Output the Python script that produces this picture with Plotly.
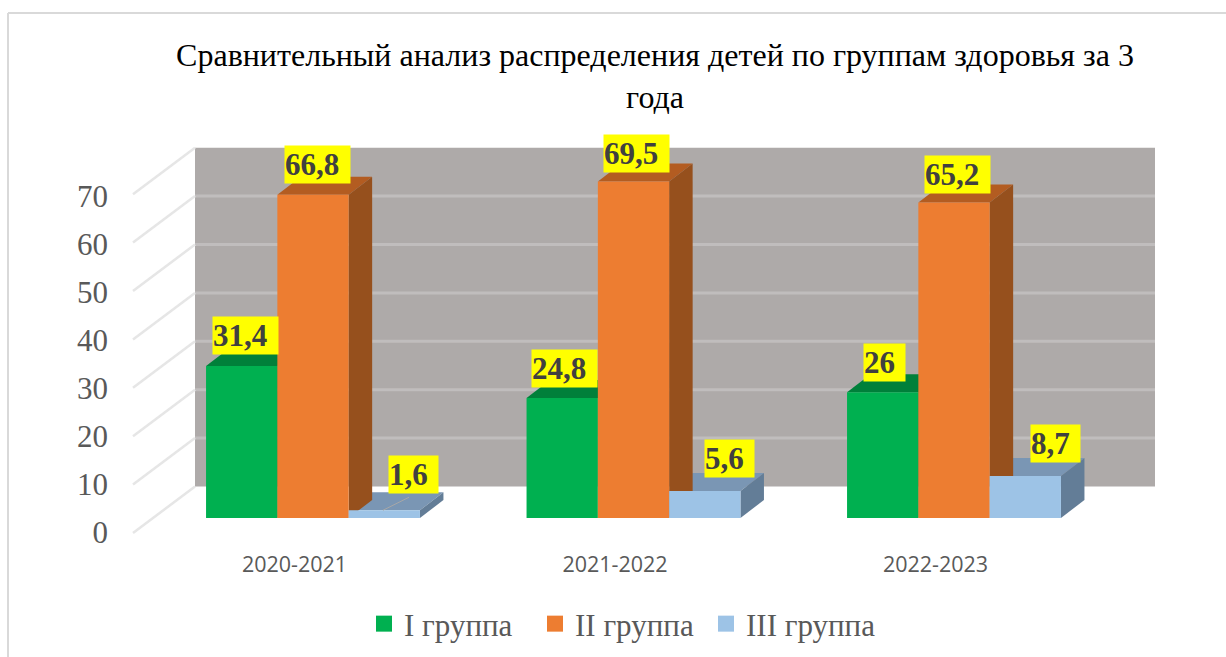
import plotly.graph_objects as go

# ---------- data ----------
categories = ["2020-2021", "2021-2022", "2022-2023"]
group_names = ["I группа", "II группа", "III группа"]
group_1 = [31.4, 24.8, 26]
group_2 = [66.8, 69.5, 65.2]
group_3 = [1.6, 5.6, 8.7]
y_ticks = [0, 10, 20, 30, 40, 50, 60, 70]
title_text = "Сравнительный анализ распределения детей по группам здоровья за 3<br>года"

# ---------- styles ----------
front = ["#00B050", "#ED7D31", "#9DC3E6"]
top_c = ["#00803A", "#B35C21", "#7A96B4"]
side_c = ["#00703A", "#96501D", "#637D97"]
WALL = "#AEAAA9"
WALL_GRID = "#C0BDBD"
SIDE_GRID = "#E6E6E6"
TXT = "#595959"
SERIF = "Liberation Serif"

# pixel calibration of the scene
W, H = 1226, 657
PL, PR, PT, PB = 112, 1200, 140, 545
X0, XS = 313.0, 320.5      # px of first group centre, px per group
Y0, YS = 518.0, 4.84       # px of value 0 on the bars' front plane, px per unit


def xd(px):
    return (px - X0) / XS


def yd(px):
    return (Y0 - px) / YS


def xp(px):
    return (px - PL) / (PR - PL)


def yp(py):
    return (PB - py) / (PB - PT)


BAR_W = 71.3 / XS
DX, DY = 23.5 / XS, 18.0 / YS   # bar depth in data units
series = [group_1, group_2, group_3]

fig = go.Figure()
for name, vals, col in zip(group_names, series, front):
    fig.add_bar(
        x=list(range(len(categories))), y=vals, name=name, legendgroup=name, showlegend=False,
        marker=dict(color=col, line=dict(width=0)),
        hoverinfo="x+y",
    )
# legend keys
for name, col in zip(group_names, front):
    fig.add_scatter(x=[None], y=[None], name=name, legendgroup=name, mode="markers",
                    marker=dict(symbol="square", size=16, color=col))

shapes = []
# back wall and its gridlines
WB = yd(486.5)
shapes.append(dict(type="rect", xref="x", yref="y", x0=xd(195), x1=xd(1155),
                   y0=WB, y1=WB + y_ticks[-1], fillcolor=WALL, line_width=0, layer="below"))
for v in y_ticks:
    if 0 < v < y_ticks[-1]:
        shapes.append(dict(type="line", xref="x", yref="y", x0=xd(195), x1=xd(1155),
                           y0=WB + v, y1=WB + v, line=dict(color=WALL_GRID, width=3), layer="below"))
    # side wall lines
    shapes.append(dict(type="line", xref="x", yref="y", x0=xd(133), x1=xd(195),
                       y0=yd(533) + v, y1=WB + v, line=dict(color=SIDE_GRID, width=2.5), layer="below"))

# 3D top + side faces, back-most first so nearer faces cover them
for s in (2, 1, 0):
    for i, v in enumerate(series[s]):
        x_l = i - 1.5 * BAR_W + s * BAR_W
        x_r = x_l + BAR_W
        shapes.append(dict(
            type="path", xref="x", yref="y", layer="below", fillcolor=top_c[s], line_width=0,
            path=f"M{x_l},{v} L{x_r},{v} L{x_r + DX},{v + DY} L{x_l + DX},{v + DY} Z"))
        shapes.append(dict(
            type="path", xref="x", yref="y", layer="below", fillcolor=side_c[s], line_width=0,
            path=f"M{x_r},0 L{x_r},{v} L{x_r + DX},{v + DY} L{x_r + DX},{DY} Z"))

# frame: top and left edges only
FRAME = dict(color="#D9D9D9", width=2)
shapes.append(dict(type="line", xref="paper", yref="paper", x0=xp(8), x1=xp(W + 5),
                   y0=yp(13), y1=yp(13), line=FRAME, layer="below"))
shapes.append(dict(type="line", xref="paper", yref="paper", x0=xp(8), x1=xp(8),
                   y0=yp(13), y1=yp(H + 5), line=FRAME, layer="below"))
# leader line of the 1,6 label
shapes.append(dict(type="line", xref="x", yref="y", layer="above",
                   x0=xd(383), x1=xd(409), y0=group_3[0], y1=group_3[0] + 13.0 / YS,
                   line=dict(color="#A6A6A6", width=1)))

# data labels: (dx, dy) px from the centre of the bar's top edge
offsets = [
    [(4, 30.5), (2, 29), (2, 30)],
    [(4, 30), (3, 28.5), (3, 28)],
    [(29.5, 36), (25, 32), (30, 32)],
]
annotations = []
for s in range(3):
    for i, v in enumerate(series[s]):
        label = f"{v:g}".replace(".", ",")
        dx, dy = offsets[s][i]
        annotations.append(dict(
            x=i - BAR_W + s * BAR_W, y=v, xref="x", yref="y", text=f"<b>{label}</b>",
            showarrow=False, xshift=dx, yshift=dy, xanchor="center", yanchor="middle",
            bgcolor="#FFFF00", borderpad=0, align="left",
            width={4: 65, 3: 49, 2: 41}[len(label)], height=37, valign="middle",
            font=dict(family=SERIF, size=31, color="#404040"),
        ))

fig.update_layout(
    width=W, height=H,
    margin=dict(l=PL, r=W - PR, t=PT, b=H - PB, pad=0, autoexpand=False),
    paper_bgcolor="white", plot_bgcolor="rgba(0,0,0,0)",
    barmode="group", bargap=1 - 3 * 71.3 / XS, bargroupgap=0,
    shapes=shapes, annotations=annotations,
    title=dict(text=title_text, x=xp(655), xanchor="center", y=1 - 66 / H, yanchor="top",
               xref="paper", yref="container",
               font=dict(family=SERIF, size=32, color="#000000")),
    xaxis=dict(range=[xd(PL), xd(PR)], showgrid=False, zeroline=False, showline=False,
               tickmode="array", tickvals=[i - 18.5 / XS for i in range(len(categories))],
               ticktext=categories, ticks="", ticklabelstandoff=4,
               tickfont=dict(family="Open Sans", size=21.5, color=TXT)),
    yaxis=dict(range=[yd(PB), yd(PT)], showgrid=False, zeroline=False, showline=False,
               tickmode="array", tickvals=[yd(532.5 - 4.8 * v) for v in y_ticks],
               ticktext=[str(v) for v in y_ticks], ticks="", ticklabelstandoff=3,
               tickfont=dict(family=SERIF, size=31, color=TXT)),
    showlegend=True,
    legend=dict(orientation="h", x=xp(364), xanchor="left", y=yp(624), yanchor="middle",
                font=dict(family=SERIF, size=31, color=TXT), bgcolor="rgba(0,0,0,0)",
                traceorder="normal", entrywidth=126, entrywidthmode="pixels"),
)

fig.write_html("out.html", config={"displayModeBar": False},
               post_script="document.body.style.margin='0';")
